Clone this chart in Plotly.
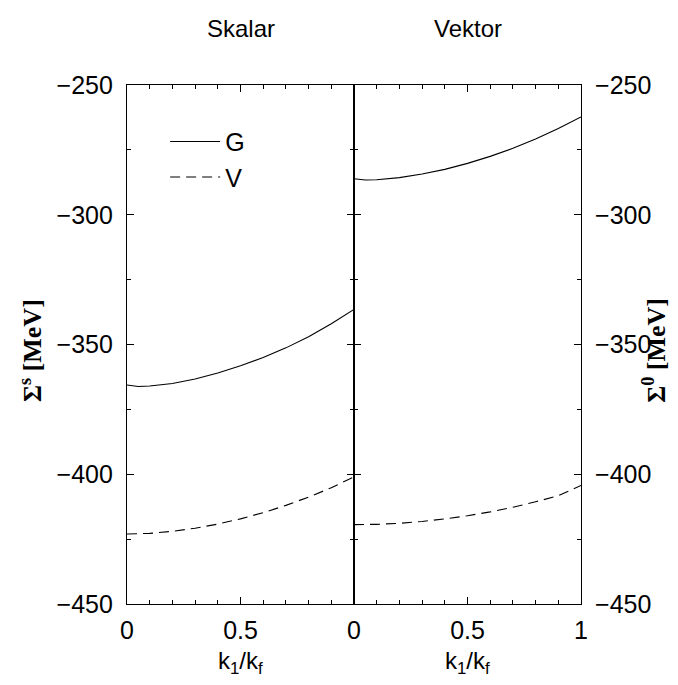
import plotly.graph_objects as go
from plotly.subplots import make_subplots

k = [0.0, 0.05, 0.1, 0.2, 0.3, 0.4, 0.5, 0.6, 0.7, 0.8, 0.9, 1.0]
skalar_G = [-365.6, -366.2, -366.0, -365.0, -363.3, -361.0, -358.2, -355.0, -351.3, -347.0, -342.0, -336.5]
skalar_V = [-423.0, -423.0, -422.8, -422.0, -420.8, -419.2, -417.2, -414.8, -412.0, -408.8, -405.2, -401.0]
vektor_G = [-286.1, -286.6, -286.5, -285.7, -284.3, -282.5, -280.2, -277.5, -274.4, -270.8, -266.8, -262.3]
vektor_V = [-419.4, -419.4, -419.3, -418.9, -418.2, -417.2, -416.0, -414.5, -412.7, -410.6, -408.3, -404.3]

panel_titles = ["Skalar", "Vektor"]
y_ticks = [-450, -400, -350, -300, -250]

fig = make_subplots(rows=1, cols=2, horizontal_spacing=0)

line_solid = dict(color="black", width=1.1)
line_dash = dict(color="black", width=1.1, dash="10px,6px")

fig.add_trace(go.Scatter(x=k, y=skalar_G, mode="lines", line=line_solid, name="G"), 1, 1)
fig.add_trace(go.Scatter(x=k, y=skalar_V, mode="lines", line=line_dash, name="V"), 1, 1)
fig.add_trace(go.Scatter(x=k, y=vektor_G, mode="lines", line=line_solid, name="G", showlegend=False), 1, 2)
fig.add_trace(go.Scatter(x=k, y=vektor_V, mode="lines", line=line_dash, name="V", showlegend=False), 1, 2)

tickfont = dict(family="Liberation Sans, Arial", size=25, color="black")
common_x = dict(range=[0, 1], showline=True, linecolor="black", linewidth=1.2, mirror="ticks",
                ticks="inside", ticklen=7, tickcolor="black", showgrid=False, zeroline=False,
                tickfont=tickfont, ticklabelstandoff=4,
                minor=dict(dtick=0.1, ticks="inside", ticklen=4, tickcolor="black", showgrid=False))
common_y = dict(range=[-450, -250], showline=True, linecolor="black", linewidth=1.2, mirror="ticks",
                ticks="inside", ticklen=7, tickcolor="black", showgrid=False, zeroline=False,
                tickfont=tickfont, tickvals=y_ticks, ticktext=["\u2212" + str(abs(v)) for v in y_ticks],
                ticklabelstandoff=8,
                minor=dict(dtick=25, tick0=-450, ticks="inside", ticklen=4, tickcolor="black", showgrid=False))

fig.update_xaxes(**common_x, tickvals=[0, 0.5], ticktext=["0", "0.5"], row=1, col=1)
fig.update_xaxes(**common_x, tickvals=[0, 0.5, 1], ticktext=["0", "0.5", "1"], row=1, col=2)
fig.update_yaxes(**common_y, row=1, col=1)
fig.update_yaxes(**common_y, side="right", row=1, col=2)

annfont = dict(family="Liberation Sans, Arial", size=24, color="black")
titlefont = dict(family="Liberation Serif, Times New Roman", size=26, color="black")
annotations = [
    dict(text=panel_titles[0], x=0.25, y=1.108, xref="paper", yref="paper", showarrow=False, font=annfont, xanchor="center", yanchor="middle"),
    dict(text=panel_titles[1], x=0.75, y=1.108, xref="paper", yref="paper", showarrow=False, font=annfont, xanchor="center", yanchor="middle"),
    dict(text="k<sub>1</sub>/k<sub>f</sub>", x=0.25, y=-0.112, xref="paper", yref="paper", showarrow=False, font=annfont, xanchor="center", yanchor="middle"),
    dict(text="k<sub>1</sub>/k<sub>f</sub>", x=0.75, y=-0.112, xref="paper", yref="paper", showarrow=False, font=annfont, xanchor="center", yanchor="middle"),
    dict(text="<b>\u03a3<sup>s</sup> [MeV]</b>", x=-0.212, y=0.489, xref="paper", yref="paper", showarrow=False, font=titlefont, textangle=-90, xanchor="center", yanchor="middle"),
    dict(text="<b>\u03a3<sup>0</sup> [MeV]</b>", x=1.162, y=0.489, xref="paper", yref="paper", showarrow=False, font=titlefont, textangle=-90, xanchor="center", yanchor="middle"),
]

fig.update_layout(
    width=670, height=677,
    margin=dict(l=119, r=97, t=77, b=81),
    paper_bgcolor="white", plot_bgcolor="white",
    annotations=annotations,
    showlegend=True,
    legend=dict(x=0.084, y=0.935, xanchor="left", yanchor="top", bgcolor="rgba(0,0,0,0)",
                font=dict(family="Liberation Sans, Arial", size=25, color="black"),
                itemwidth=50),
)

fig.write_html("out.html")
